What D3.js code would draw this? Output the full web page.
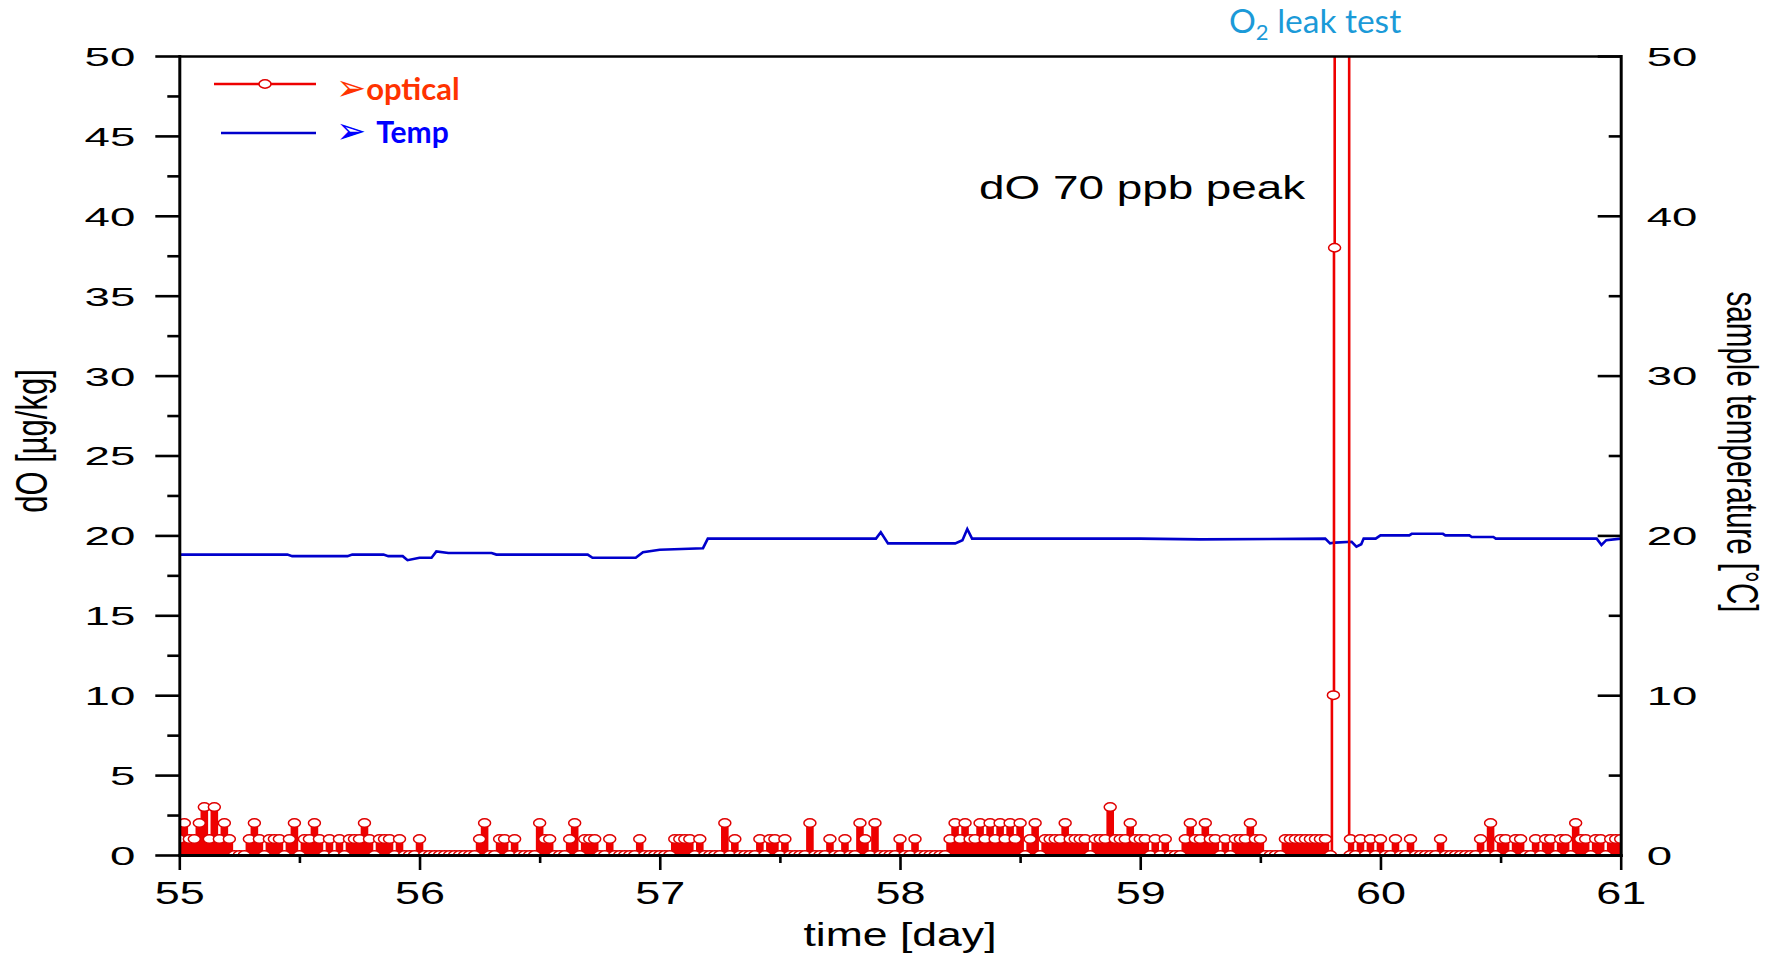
<!DOCTYPE html>
<html>
<head>
<meta charset="utf-8">
<script src="https://cdn.jsdelivr.net/npm/d3@7"></script>
<style>
  body { margin: 0; background: #fff; }
  svg { display: block; }
</style>
</head>
<body>
<svg id="chart" width="1777" height="956"></svg>
<script>
// optical dO readings, one sample every 30 min, [µg/kg]
var sampleStart = 55;
var samplesPerDay = 48;
var dO_day55 = [1,2,1,1,2,3,1,3,1,2,1,0, 0,0,1,2,1,0,1,1,1,0,1,2, 0,1,1,2,1,0,1,0,1,0,1,1, 1,2,1,0,1,1,1,0,1,0,0,0];
var dO_day56 = [1,0,0,0,0,0,0,0,0,0,0,0, 1,2,0,0,1,1,0,1,0,0,0,0, 2,1,1,0,0,0,1,2,0,1,1,1, 0,0,1,0,0,0,0,0,1,0,0,0];
var dO_day57 = [0,0,0,1,1,1,1,0,1,0,0,0, 0,2,0,1,0,0,0,0,1,0,1,1, 0,1,0,0,0,0,2,0,0,0,1,0, 0,1,0,0,2,1,0,2,0,0,0,0];
var dO_day58 = [1,0,0,1,0,0,0,0,0,0,1,2, 1,2,1,1,2,1,2,1,2,1,2,1, 2,0,1,2,0,1,1,1,1,2,1,1, 1,1,0,1,1,1,3,1,1,1,2,1];
var dO_day59 = [1,1,0,1,0,1,0,0,0,1,2,1, 1,2,1,1,0,1,0,1,1,1,2,1, 1,0,0,0,0,1,1,1,1,1,1,1, 1,1,0,null,null,null,1,0,1,0,1,0];
var dO_day60 = [1,0,0,1,0,0,1,0,0,0,0,0, 1,0,0,0,0,0,0,0,1,0,2,0, 1,1,0,1,1,0,0,1,0,1,1,0, 1,1,0,2,1,1,0,1,1,0,1,1, 1];

// O2 leak test: 70 ppb peak, runs off the top of the scale
var peakTime = [59.804, 59.809, 59.810, 59.866, 59.8735];
var peakValue = [10, 38, 70, 70, 0];

// sample temperature [°C]
var tempDay = [55.00,55.45,55.47,55.70,55.72,55.85,55.87,55.93,55.95,56.00,56.05,56.07,56.12,56.30,56.32,56.70,56.72,56.90,56.93,57.00,57.18,57.20,57.90,57.92,57.95,58.23,58.26,58.28,58.30,59.00,59.25,59.77,59.79,59.81,59.88,59.90,59.92,59.93,59.98,60.00,60.12,60.13,60.26,60.27,60.37,60.38,60.47,60.48,60.90,60.92,60.94,61.00];
var tempValue = [18.8,18.8,18.7,18.7,18.8,18.8,18.7,18.7,18.45,18.6,18.6,19.0,18.9,18.9,18.8,18.8,18.6,18.6,18.95,19.1,19.2,19.8,19.8,20.2,19.5,19.5,19.7,20.4,19.8,19.8,19.75,19.8,19.5,19.55,19.6,19.3,19.45,19.8,19.8,20.0,20.0,20.1,20.1,20.0,20.0,19.9,19.9,19.8,19.8,19.4,19.7,19.8];

var dayTicks = [55, 56, 57, 58, 59, 60, 61];
var dayMinor = [55.5, 56.5, 57.5, 58.5, 59.5, 60.5];
var dOTicks = [0, 5, 10, 15, 20, 25, 30, 35, 40, 45, 50];
var dOMinor = [2.5, 7.5, 12.5, 17.5, 22.5, 27.5, 32.5, 37.5, 42.5, 47.5];
var tempTicks = [0, 10, 20, 30, 40, 50];
var tempMinor = [5, 15, 25, 35, 45];

var svg = d3.select("#chart");
var plotLeft = 179.3, plotRight = 1620.7, plotTop = 56, plotBottom = 855;

var x = d3.scaleLinear().domain([55, 61]).range([plotLeft, plotRight]);
var y = d3.scaleLinear().domain([0, 50]).range([plotBottom, plotTop]);
var yT = d3.scaleLinear().domain([0, 50]).range([plotBottom, plotTop]);

var numFont = "'Liberation Sans', Arial, sans-serif";

svg.append("clipPath").attr("id", "plot")
  .append("rect")
  .attr("x", plotLeft).attr("y", plotTop)
  .attr("width", plotRight - plotLeft).attr("height", plotBottom - plotTop);

// build optical points, splicing the peak in where the grid has gaps
var allDO = [].concat(dO_day55, dO_day56, dO_day57, dO_day58, dO_day59, dO_day60);
var optical = [];
var peakDone = false;
allDO.forEach(function(v, i){
    if (v === null) {
        if (!peakDone) {
            peakTime.forEach(function(t, j){ optical.push({t: t, v: peakValue[j]}); });
            peakDone = true;
        }
        return;
    }
    optical.push({t: sampleStart + i / samplesPerDay, v: v});
});

var temp = tempDay.map(function(d, i){ return {t: d, v: tempValue[i]}; });

var plot = svg.append("g").attr("clip-path", "url(#plot)");

plot.append("path")
  .datum(temp)
  .attr("fill", "none")
  .attr("stroke", "#0000cc")
  .attr("stroke-width", 2.6)
  .attr("d", d3.line().x(function(d){ return x(d.t); }).y(function(d){ return yT(d.v); }));

// the raw trace is much denser than the markers, so the small
// readings show up as solid red blocks under the circles
plot.append("path")
  .datum(optical)
  .attr("fill", "#ee0000")
  .attr("d", d3.area()
    .defined(function(d){ return d.v < 5; })
    .curve(d3.curveStep)
    .x(function(d){ return x(d.t); })
    .y0(y(0))
    .y1(function(d){ return y(d.v); }));

plot.append("path")
  .datum(optical)
  .attr("fill", "none")
  .attr("stroke", "#ee0000")
  .attr("stroke-width", 2.6)
  .attr("d", d3.line().curve(d3.curveStep).x(function(d){ return x(d.t); }).y(function(d){ return y(d.v); }));

plot.selectAll("ellipse.pt")
  .data(optical)
  .enter().append("ellipse")
  .attr("class", "pt")
  .attr("cx", function(d){ return x(d.t); })
  .attr("cy", function(d){ return y(d.v); })
  .attr("rx", 6).attr("ry", 4.2)
  .attr("fill", "#fff")
  .attr("stroke", "#e00000")
  .attr("stroke-width", 1.5);

// stretch tick labels horizontally like the original export
function styleTicks(g, sx, anchor, dx, dy, size){
    g.selectAll(".tick text")
      .attr("x", null).attr("y", null).attr("dy", null)
      .attr("text-anchor", anchor)
      .attr("font-family", numFont)
      .attr("font-size", size)
      .attr("fill", "#000")
      .attr("transform", "translate(" + dx + "," + dy + ") scale(" + sx + ",1)");
    g.selectAll(".tick line").attr("stroke", "#000").attr("stroke-width", 2.6);
    g.select(".domain").attr("stroke", "#000").attr("stroke-width", 3).attr("stroke-linecap", "square");
}

function noLabels(g){
    g.selectAll(".tick text").remove();
    g.select(".domain").remove();
    g.selectAll(".tick line").attr("stroke", "#000").attr("stroke-width", 2.6);
}

var fmt = d3.format("d");

// left axis
svg.append("g").attr("transform", "translate(" + plotLeft + ",0)")
  .call(d3.axisLeft(y).tickValues(dOMinor).tickSize(12)).call(noLabels);
svg.append("g").attr("transform", "translate(" + plotLeft + ",0)")
  .call(d3.axisLeft(y).tickValues(dOTicks).tickFormat(fmt).tickSize(24).tickSizeOuter(0))
  .call(styleTicks, 1.72, "end", -44, 9.4, 26.5);

// right axis, ticks point inward
svg.append("g").attr("transform", "translate(" + plotRight + ",0)")
  .call(d3.axisRight(yT).tickValues(tempMinor).tickSize(-12)).call(noLabels);
svg.append("g").attr("transform", "translate(" + plotRight + ",0)")
  .call(d3.axisRight(yT).tickValues(tempTicks).tickFormat(fmt).tickSize(-23).tickSizeOuter(0))
  .call(styleTicks, 1.78, "start", 26, 9.2, 25.6);

// bottom axis
svg.append("g").attr("transform", "translate(0," + plotBottom + ")")
  .call(d3.axisBottom(x).tickValues(dayMinor).tickSize(8)).call(noLabels);
svg.append("g").attr("transform", "translate(0," + plotBottom + ")")
  .call(d3.axisBottom(x).tickValues(dayTicks).tickFormat(fmt).tickSize(15).tickSizeOuter(0))
  .call(styleTicks, 1.45, "middle", 0, 49, 31);

// top frame line
svg.append("g").attr("transform", "translate(0," + plotTop + ")")
  .call(d3.axisTop(x).tickValues([]).tickSizeOuter(0))
  .select(".domain").attr("stroke", "#000").attr("stroke-width", 2.6);

// axis titles
svg.append("text")
  .attr("transform", "translate(900,946) scale(1.31,1)")
  .attr("text-anchor", "middle")
  .attr("font-family", numFont).attr("font-size", 34)
  .text("time [day]");

svg.append("text")
  .attr("transform", "translate(47,441) rotate(-90) scale(1,1.45)")
  .attr("text-anchor", "middle")
  .attr("font-family", numFont).attr("font-size", 31)
  .text("dO [µg/kg]");

svg.append("text")
  .attr("transform", "translate(1727,452) rotate(90) scale(1,1.48)")
  .attr("text-anchor", "middle")
  .attr("font-family", numFont).attr("font-size", 29.6)
  .text("sample temperature [°C]");

// annotations
svg.append("text")
  .attr("transform", "translate(979,199) scale(1.39,1)")
  .attr("font-family", numFont).attr("font-size", 33)
  .text("dO 70 ppb peak");

var leak = svg.append("text")
  .attr("x", 1229).attr("y", 33)
  .attr("font-family", "Lato, 'Open Sans', sans-serif").attr("font-size", 33.5)
  .attr("fill", "#1b9ad8");
leak.append("tspan").text("O");
leak.append("tspan").attr("font-size", 22).attr("dy", 7).text("2");
leak.append("tspan").attr("dy", -7).text(" leak test");

// legend
var legend = svg.append("g");
legend.append("line")
  .attr("x1", 214).attr("x2", 316).attr("y1", 84).attr("y2", 84)
  .attr("stroke", "#ee0000").attr("stroke-width", 2.4);
legend.append("ellipse")
  .attr("cx", 265).attr("cy", 84).attr("rx", 6).attr("ry", 4.2)
  .attr("fill", "#fff").attr("stroke", "#e00000").attr("stroke-width", 1.5);
legend.append("line")
  .attr("x1", 221).attr("x2", 316).attr("y1", 133).attr("y2", 133)
  .attr("stroke", "#0000cc").attr("stroke-width", 2.4);

var t1 = legend.append("text").attr("x", 336).attr("y", 100)
  .attr("font-family", "Lato, sans-serif").attr("font-weight", "bold").attr("font-size", 31)
  .attr("fill", "#ff3300");
t1.append("tspan").attr("font-family", "'DejaVu Sans'").attr("font-size", 36).attr("font-weight", "normal").text("➢");
t1.append("tspan").text("optical");

var t2 = legend.append("text").attr("x", 336).attr("y", 143)
  .attr("font-family", "Lato, sans-serif").attr("font-weight", "bold").attr("font-size", 30)
  .attr("fill", "#0000ff");
t2.append("tspan").attr("font-family", "'DejaVu Sans'").attr("font-size", 36).attr("font-weight", "normal").text("➢");
t2.append("tspan").attr("dx", 10).text("Temp");
</script>
</body>
</html>
